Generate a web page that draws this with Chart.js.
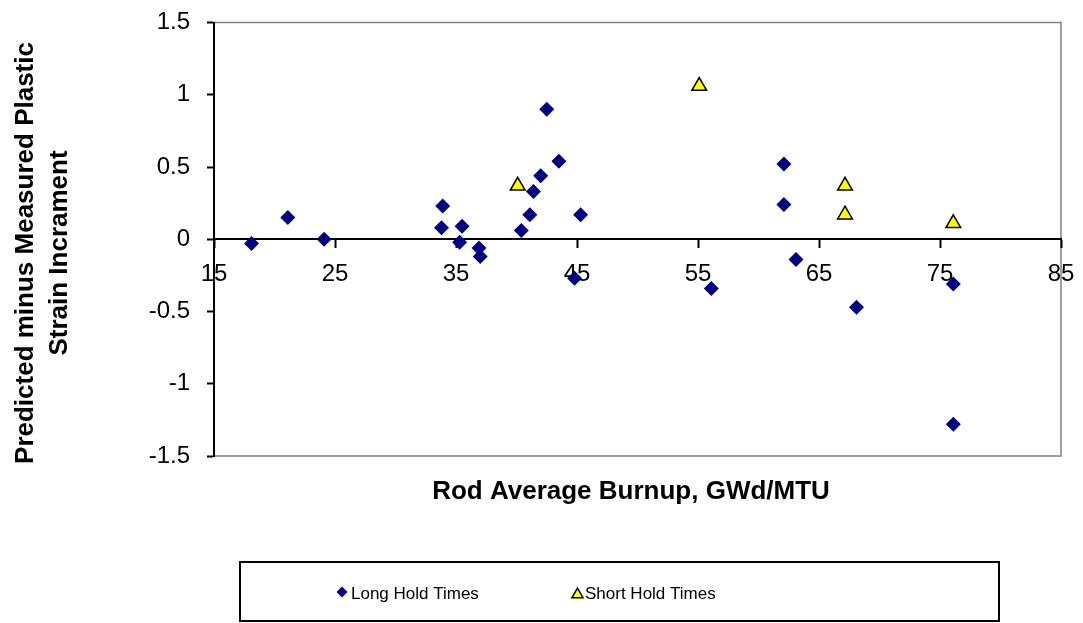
<!DOCTYPE html>
<html>
<head>
<meta charset="utf-8">
<title>Plastic strain increment vs burnup</title>
<script src="https://cdn.jsdelivr.net/npm/chart.js@4/dist/chart.umd.min.js"></script>
<style>
  html, body { margin: 0; padding: 0; background: #fff; }
  #wrap { position: relative; width: 1083px; height: 623px; }
</style>
</head>
<body>
<div id="wrap"><canvas id="chart"></canvas></div>
<script>
(() => {
  "use strict";

  // ---------- data ----------
  const longBurnup = [18.1, 21.1, 24.1, 33.9, 33.8, 35.5, 35.3, 36.9, 37.0, 40.4, 41.1, 41.4,
    42.0, 42.5, 43.5, 45.3, 44.8, 56.1, 62.1, 62.1, 63.1, 68.1, 76.1, 76.1];
  const longDelta = [-0.03, 0.15, 0.0, 0.23, 0.08, 0.09, -0.02, -0.06, -0.12, 0.06, 0.17, 0.33,
    0.44, 0.9, 0.54, 0.17, -0.27, -0.34, 0.52, 0.24, -0.14, -0.47, -0.31, -1.28];
  const shortBurnup = [40.1, 55.1, 67.15, 67.15, 76.1];
  const shortDelta = [0.37, 1.06, 0.37, 0.17, 0.11];

  const xTicks = [15, 25, 35, 45, 55, 65, 75, 85];
  const yTicks = [-1.5, -1, -0.5, 0, 0.5, 1, 1.5];
  const xTitle = "Rod Average Burnup, GWd/MTU";
  const yTitle = ["Predicted minus Measured Plastic", "Strain Incrament"];
  const seriesNames = ["Long Hold Times", "Short Hold Times"];

  // ---------- styles ----------
  const FONT = "'Liberation Sans', Arial, Helvetica, sans-serif";
  const NAVY = "#000080";
  const YELLOW = "#ffff00";
  const FRAME = "#808080";

  const toPoints = (xs, ys) => xs.map((x, i) => ({ x, y: ys[i] }));
  const fixedTicks = (vals) => (scale) => {
    scale.ticks = vals.map((v) => ({ value: v }));
  };

  // plot frame, axis titles and boxed legend
  const decor = {
    id: "decor",
    beforeDraw(chart) {
      const { ctx, chartArea: a } = chart;
      ctx.save();
      ctx.strokeStyle = FRAME;
      ctx.lineWidth = 1.5;
      ctx.strokeRect(a.left, a.top, a.right - a.left, a.bottom - a.top);
      ctx.restore();
    },
    afterDraw(chart) {
      const { ctx } = chart;
      ctx.save();
      ctx.fillStyle = "#000";
      ctx.font = `bold 26px ${FONT}`;
      ctx.textAlign = "center";
      ctx.textBaseline = "alphabetic";
      ctx.fillText(xTitle, 631, 499);

      const lineX = [33, 67];
      yTitle.forEach((line, i) => {
        ctx.save();
        ctx.translate(lineX[i], 253);
        ctx.rotate(-Math.PI / 2);
        ctx.fillText(line, 0, 0);
        ctx.restore();
      });

      // legend box
      ctx.strokeStyle = "#000";
      ctx.lineWidth = 2;
      ctx.strokeRect(240, 562, 759, 59);

      const markX = [342, 577.5];
      const textX = [351, 585];
      const markY = [592, 594.5];
      const radius = [5.5, 6.4];
      ctx.font = `17px ${FONT}`;
      ctx.textAlign = "left";
      chart.data.datasets.forEach((ds, i) => {
        ctx.fillStyle = ds.backgroundColor;
        ctx.strokeStyle = ds.borderColor;
        ctx.lineWidth = ds.borderWidth;
        Chart.helpers.drawPoint(ctx, {
          pointStyle: ds.pointStyle,
          radius: radius[i],
          borderWidth: ds.borderWidth,
          rotation: 0,
        }, markX[i], markY[i]);
        ctx.fillStyle = "#000";
        ctx.fillText(ds.label, textX[i], 599);
      });
      ctx.restore();
    },
  };

  const axisFont = { family: FONT, size: 24 };

  new Chart(document.getElementById("chart"), {
    type: "scatter",
    data: {
      datasets: [
        {
          label: seriesNames[0],
          data: toPoints(longBurnup, longDelta),
          pointStyle: "rectRot",
          pointRadius: 7.5,
          backgroundColor: NAVY,
          borderColor: NAVY,
          borderWidth: 0,
        },
        {
          label: seriesNames[1],
          data: toPoints(shortBurnup, shortDelta),
          pointStyle: "triangle",
          pointRadius: 8.5,
          backgroundColor: YELLOW,
          borderColor: "#000",
          borderWidth: 1.5,
        },
      ],
    },
    options: {
      responsive: true,
      maintainAspectRatio: false,
      animation: false,
      events: [],
      layout: { padding: { left: 0, right: 22, top: 22.5, bottom: 167 } },
      plugins: {
        legend: { display: false },
        tooltip: { enabled: false },
      },
      scales: {
        x: {
          type: "linear",
          position: { y: 0 },
          min: 15,
          max: 85,
          afterBuildTicks: fixedTicks(xTicks),
          afterFit: (scale) => {
            scale.height = 0;
            scale.paddingLeft = 0;
            scale.paddingRight = 0;
          },
          grid: {
            display: true,
            drawOnChartArea: false,
            drawTicks: true,
            tickLength: 8,
            tickColor: "#000",
            tickWidth: 2,
          },
          border: { display: true, color: "#000", width: 2 },
          ticks: {
            autoSkip: false,
            maxRotation: 0,
            padding: 13,
            color: "#000",
            font: axisFont,
            callback: (v) => String(v),
          },
        },
        y: {
          type: "linear",
          position: "left",
          min: -1.5,
          max: 1.5,
          afterBuildTicks: fixedTicks(yTicks),
          afterFit: (scale) => {
            scale.width = 214;
            scale.paddingTop = 0;
            scale.paddingBottom = 0;
          },
          grid: {
            display: true,
            drawOnChartArea: false,
            drawTicks: true,
            tickLength: 7,
            tickColor: "#000",
            tickWidth: 2,
          },
          border: { display: true, color: "#000", width: 2 },
          ticks: {
            padding: 17,
            color: "#000",
            font: axisFont,
            callback: (v) => String(v),
          },
        },
      },
    },
    plugins: [decor],
  });
})();
</script>
</body>
</html>
